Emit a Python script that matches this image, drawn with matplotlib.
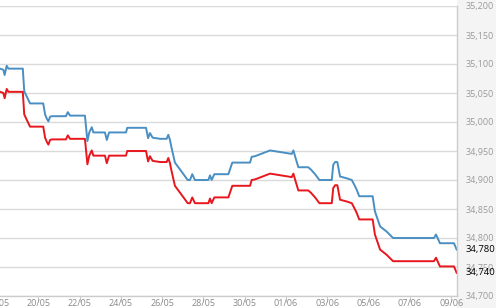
import matplotlib.pyplot as plt
from matplotlib.patches import Rectangle

# days since 18/05
t_days = [0.15, 0.31, 0.37, 0.47, 0.55, 1.25, 1.32, 1.44, 1.60, 2.24,
          2.33, 2.41, 2.49, 2.57, 2.65, 3.34, 3.43, 3.54, 4.26, 4.38,
          4.47, 4.59, 4.67, 5.23, 5.32, 5.43, 6.25, 6.31, 7.22, 7.32,
          7.41, 7.54, 7.90, 8.22, 8.30, 8.38, 8.46, 8.62, 8.87, 9.24,
          9.35, 9.46, 9.59, 10.24, 10.32, 10.40, 10.53, 11.21, 11.40, 12.26,
          12.34, 12.50, 13.23, 14.28, 14.36, 14.44, 14.60, 15.08, 15.21, 15.41,
          15.62, 16.22, 16.29, 16.38, 16.49, 16.62, 16.94, 17.19, 17.35, 17.43,
          17.55, 18.20, 18.31, 18.56, 18.88, 19.19, 21.17, 21.27, 21.46, 22.14,
          22.27]

ask = [35092, 35090, 35081, 35097, 35092, 35092, 35053, 35044, 35032, 35032,
       35013, 35006, 35001, 35009, 35010, 35010, 35017, 35011, 35011, 34967,
       34982, 34991, 34982, 34982, 34969, 34982, 34982, 34990, 34990, 34972,
       34981, 34973, 34971, 34971, 34978, 34969, 34955, 34930, 34918, 34900,
       34900, 34910, 34900, 34900, 34908, 34900, 34910, 34910, 34930, 34930,
       34940, 34941, 34951, 34945, 34951, 34941, 34922, 34922, 34918, 34910,
       34900, 34900, 34926, 34931, 34931, 34906, 34903, 34900, 34889, 34883,
       34872, 34872, 34846, 34820, 34811, 34800, 34800, 34806, 34791, 34791,
       34780]

bid = [35052, 35050, 35041, 35057, 35052, 35052, 35013, 35004, 34992, 34992,
       34973, 34966, 34961, 34969, 34970, 34970, 34977, 34971, 34971, 34927,
       34942, 34951, 34942, 34942, 34929, 34942, 34942, 34950, 34950, 34932,
       34941, 34933, 34931, 34931, 34938, 34929, 34915, 34890, 34878, 34860,
       34860, 34870, 34860, 34860, 34868, 34860, 34870, 34870, 34890, 34890,
       34900, 34901, 34911, 34905, 34911, 34901, 34882, 34882, 34878, 34870,
       34860, 34860, 34886, 34891, 34891, 34866, 34863, 34860, 34849, 34843,
       34832, 34832, 34806, 34780, 34771, 34760, 34760, 34766, 34751, 34751,
       34740]

x_ticks = [0, 2, 4, 6, 8, 10, 12, 14, 16, 18, 20, 22]
x_labels = ['18/05', '20/05', '22/05', '24/05', '26/05', '28/05',
            '30/05', '01/06', '03/06', '05/06', '07/06', '09/06']
y_ticks = [34700, 34750, 34800, 34850, 34900, 34950, 35000, 35050, 35100, 35150, 35200]

plt.rcParams['font.family'] = ['Open Sans', 'DejaVu Sans']

fig = plt.figure(figsize=(4.96, 3.08), dpi=100, facecolor='white')
# grey strip behind the price scale
fig.patches.append(Rectangle((457 / 496, 0), 1, 1, transform=fig.transFigure,
                             facecolor='#f4f4f4', edgecolor='none', zorder=-1))
ax = fig.add_axes([0, 12 / 308, 457 / 496, 290 / 308])

ax.plot(t_days, ask, color='#4a8fc3', lw=1.4)
ax.plot(t_days, bid, color='#e8161d', lw=1.4)

ax.set_xlim(3 / 20.64, 460 / 20.64)
ax.set_ylim(34700, 35200)

ax.yaxis.tick_right()
ax.set_yticks(y_ticks)
ax.set_yticklabels([f'{v:,}' for v in y_ticks])
ax.tick_params(axis='y', length=0, pad=6.5, labelsize=6.5, labelcolor='#9a9a9a')
ax.grid(axis='y', color='#dadada', lw=1.0)

ax.set_xticks(x_ticks[1:])
ax.set_xticklabels(x_labels[1:])
ax.tick_params(axis='x', length=4, width=0.7, color='#c8c8c8', pad=-1.5,
               labelsize=6.5, labelcolor='#8a8a8a')
ax.text(x_ticks[0], -0.027, x_labels[0], transform=ax.get_xaxis_transform(),
        ha='center', va='center', fontsize=6.5, color='#8a8a8a', clip_on=False)

for side in ['left', 'top']:
    ax.spines[side].set_visible(False)
for side in ['right', 'bottom']:
    ax.spines[side].set_color('#cccccc')
    ax.spines[side].set_linewidth(1.0)

# last price labels on the scale
for v in [ask[-1], bid[-1]]:
    ax.text(466 / 457, v, f'{v:,}', transform=ax.get_yaxis_transform(),
            ha='left', va='center', fontsize=6.8, color='black', clip_on=False)

fig.savefig('out.png', dpi=100, facecolor=fig.get_facecolor())
